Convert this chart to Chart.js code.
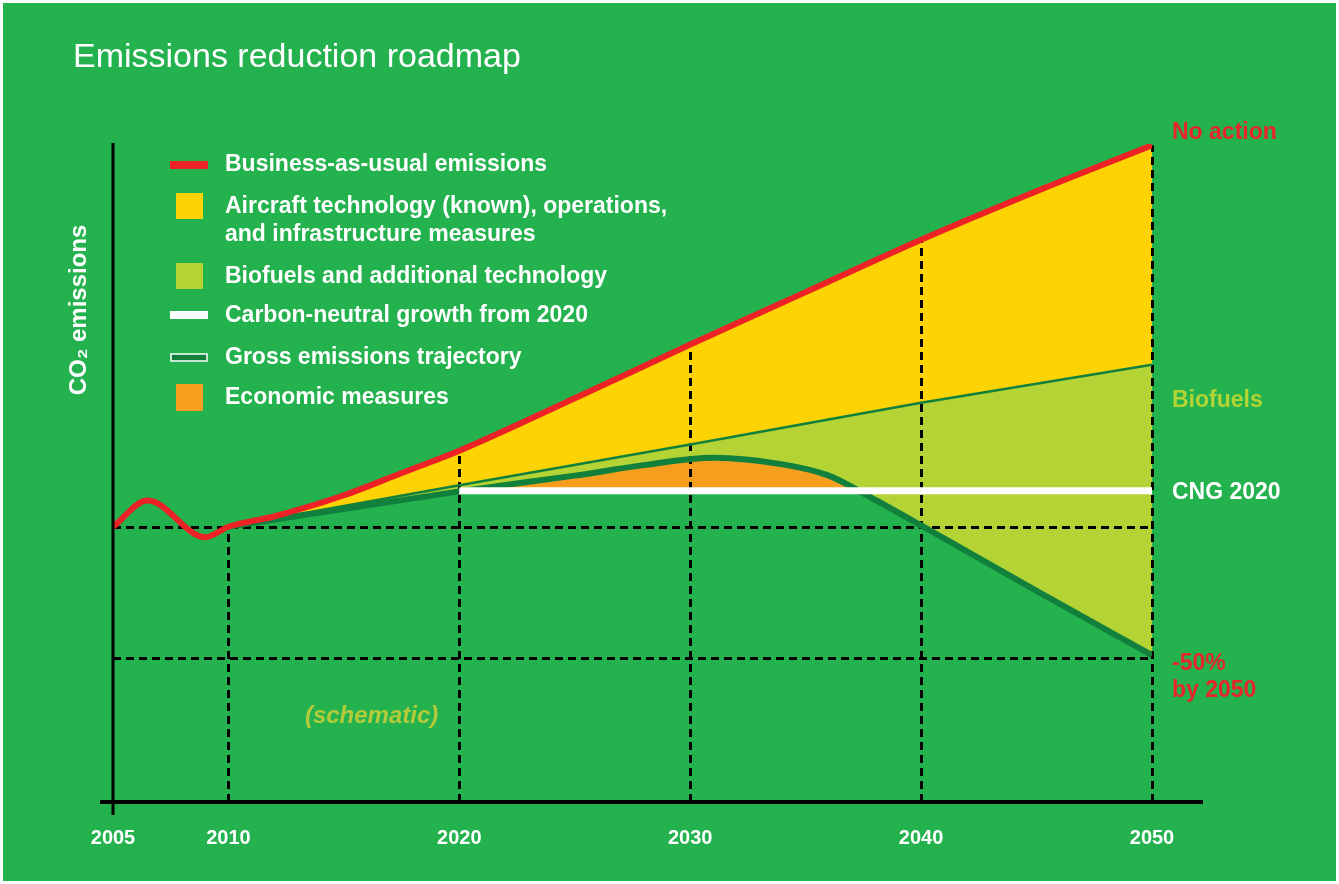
<!DOCTYPE html>
<html>
<head>
<meta charset="utf-8">
<title>Emissions reduction roadmap</title>
<script src="https://cdn.jsdelivr.net/npm/chart.js@4.4.1/dist/chart.umd.min.js"></script>
<style>
  html, body { margin: 0; padding: 0; background: #fff; }
  #wrap { width: 1339px; height: 884px; }
</style>
</head>
<body>
<div id="wrap"><canvas id="roadmap" width="1339" height="884"></canvas></div>
<script>
// --- data (schematic) ---
const tickYears = [2005, 2010, 2020, 2030, 2040, 2050];

const bauYears  = [2005, 2006.5, 2009, 2010, 2012, 2015, 2017.5, 2020, 2025, 2030, 2035, 2040, 2045, 2050];
const bauValues = [100, 110, 96, 100, 104, 112, 120.5, 129, 149, 169.5, 189.5, 209.5, 228, 245.5];

const techYears  = [2010, 2020, 2030, 2040, 2050];
const techValues = [100, 115.8, 131.4, 147.3, 161.8];

const grossYears  = [2010, 2020, 2025, 2028, 2031, 2034, 2036, 2038, 2040, 2045, 2050];
const grossValues = [100, 113.5, 119.5, 123.5, 126.3, 123.8, 119.5, 110.3, 100.5, 75.5, 51];

const cngYears  = [2020, 2050];
const cngValues = [113.7, 113.7];

const refLevels = [100, 50];   // 2005 level and -50%

const legendLabels = [
  'Business-as-usual emissions',
  'Aircraft technology (known), operations,',
  'and infrastructure measures',
  'Biofuels and additional technology',
  'Carbon-neutral growth from 2020',
  'Gross emissions trajectory',
  'Economic measures'
];

const noteTexts  = ['No action', 'Biofuels', 'CNG 2020', '-50%', 'by 2050'];
const noteValues = [250.4, 148, 113, 47.7, 37.4];

const titleText = 'Emissions reduction roadmap';
const yTitle = 'CO\u2082 emissions';
const schematicText = '(schematic)';

// --- colours ---
const BG = '#24B24E';
const RED = '#EC2227';
const YELLOW = '#FDD303';
const LIME = '#B4D335';
const ORANGE = '#F69F1F';
const DARK = '#11803D';
const WHITE = '#FFFFFF';
const FONT = '"Liberation Sans", Arial, sans-serif';

const pairs = (xs, ys) => xs.map((x, i) => ({ x: x, y: ys[i] }));

const roadmapDecor = {
  id: 'roadmapDecor',
  beforeDraw(chart) {
    const c = chart.ctx;
    c.save();
    c.fillStyle = WHITE;
    c.fillRect(0, 0, chart.width, chart.height);
    c.fillStyle = BG;
    c.fillRect(3, 3, chart.width - 6, chart.height - 6);

    c.fillStyle = WHITE;
    c.font = '34px ' + FONT;
    c.textBaseline = 'middle';
    c.textAlign = 'left';
    c.fillText(titleText, 73, 58);
    c.restore();
  },
  beforeDatasetsDraw(chart) {
    // dashed guide lines, above the fills and under the lines
    const c = chart.ctx;
    const xs = chart.scales.x, ys = chart.scales.y;
    const area = chart.chartArea;
    c.save();
    c.strokeStyle = '#000';
    c.lineWidth = 3;
    c.setLineDash([8, 5]);
    refLevels.forEach(v => {
      const py = Math.round(ys.getPixelForValue(v)) + 0.5;
      c.beginPath();
      c.moveTo(area.left, py);
      c.lineTo(area.right, py);
      c.stroke();
    });
    tickYears.slice(1).forEach(yr => {
      const i = bauYears.indexOf(yr);
      const px = Math.round(xs.getPixelForValue(yr)) + 0.5;
      c.beginPath();
      c.moveTo(px, area.bottom);
      c.lineTo(px, ys.getPixelForValue(bauValues[i]));
      c.stroke();
    });
    c.restore();
  },
  afterDatasetsDraw(chart) {
    const c = chart.ctx;
    const ys = chart.scales.y, xs = chart.scales.x;
    const area = chart.chartArea;
    c.save();

    // axes
    c.strokeStyle = '#000';
    c.lineWidth = 3;
    c.beginPath();
    c.moveTo(area.left, 143);
    c.lineTo(area.left, area.bottom + 13);
    c.stroke();
    c.lineWidth = 4;
    c.beginPath();
    c.moveTo(100, area.bottom);
    c.lineTo(1203, area.bottom);
    c.stroke();

    // y title
    c.save();
    c.translate(79, 310);
    c.rotate(-Math.PI / 2);
    c.fillStyle = WHITE;
    c.font = 'bold 24px ' + FONT;
    c.textAlign = 'center';
    c.textBaseline = 'middle';
    c.fillText(yTitle, 0, 0);
    c.restore();

    // legend
    const sx = 170, bx = 176, tx = 225;
    c.font = 'bold 23px ' + FONT;
    c.textAlign = 'left';
    c.textBaseline = 'middle';

    c.fillStyle = RED;
    c.fillRect(sx, 161, 38, 8);
    c.fillStyle = YELLOW;
    c.fillRect(bx, 193, 27, 26);
    c.fillStyle = LIME;
    c.fillRect(bx, 263, 27, 26);
    c.fillStyle = WHITE;
    c.fillRect(sx, 311, 38, 8);
    c.fillStyle = DARK;
    c.fillRect(sx + 1, 354, 36, 7);
    c.strokeStyle = WHITE;
    c.lineWidth = 1.5;
    c.strokeRect(sx + 1, 354, 36, 7);
    c.fillStyle = ORANGE;
    c.fillRect(bx, 384, 27, 27);

    c.fillStyle = WHITE;
    const rowY = [165, 207, 235, 277, 316, 358, 398];
    legendLabels.forEach((t, i) => c.fillText(t, tx, rowY[i]));

    // notes on the right
    const noteColors = ['#E8262A', LIME, WHITE, '#E8262A', '#E8262A'];
    c.font = 'bold 23px ' + FONT;
    noteTexts.forEach((t, i) => {
      c.fillStyle = noteColors[i];
      c.fillText(t, area.right + 20, ys.getPixelForValue(noteValues[i]));
    });

    // schematic tag
    c.fillStyle = '#B3CB3A';
    c.font = 'italic bold 24px ' + FONT;
    c.textAlign = 'center';
    c.fillText(schematicText, xs.getPixelForValue(2016.2), ys.getPixelForValue(27.5));

    c.restore();
  }
};

const ctx = document.getElementById('roadmap');

new Chart(ctx, {
  type: 'line',
  data: {
    datasets: [
      {
        label: 'Carbon-neutral growth from 2020',
        data: pairs(cngYears, cngValues),
        borderColor: WHITE,
        borderWidth: 7,
        borderCapStyle: 'butt',
        fill: false
      },
      {
        label: 'Business-as-usual emissions',
        data: pairs(bauYears, bauValues),
        borderColor: RED,
        borderWidth: 6,
        backgroundColor: YELLOW,
        fill: 4,
        cubicInterpolationMode: 'monotone'
      },
      {
        label: 'Gross emissions trajectory',
        data: pairs(grossYears, grossValues),
        borderColor: DARK,
        borderWidth: 6,
        fill: false,
        cubicInterpolationMode: 'monotone'
      },
      {
        label: 'Economic measures',
        data: pairs(cngYears, cngValues),
        borderColor: 'rgba(0,0,0,0)',
        borderWidth: 0,
        fill: { target: 2, above: 'rgba(0,0,0,0)', below: ORANGE }
      },
      {
        label: 'Biofuels and additional technology',
        data: pairs(techYears, techValues),
        borderColor: DARK,
        borderWidth: 2.5,
        backgroundColor: LIME,
        fill: 2
      }
    ]
  },
  options: {
    responsive: false,
    animation: false,
    events: [],
    elements: { point: { radius: 0, hoverRadius: 0 } },
    layout: { padding: { left: 113, right: 187, top: 144, bottom: 22 } },
    plugins: {
      legend: { display: false },
      tooltip: { enabled: false },
      filler: { drawTime: 'beforeDatasetsDraw', propagate: false }
    },
    scales: {
      x: {
        type: 'linear',
        min: 2005,
        max: 2050,
        grid: { display: false, drawTicks: false },
        border: { display: false },
        afterBuildTicks: s => { s.ticks = tickYears.map(v => ({ value: v })); },
        afterFit: s => { s.height = 60; },
        ticks: {
          color: WHITE,
          font: { family: FONT, size: 20, weight: 'bold' },
          padding: 24,
          autoSkip: false,
          maxRotation: 0,
          callback: v => String(v)
        }
      },
      y: { display: false, min: -5, max: 246 }
    }
  },
  plugins: [roadmapDecor]
});
</script>
</body>
</html>
